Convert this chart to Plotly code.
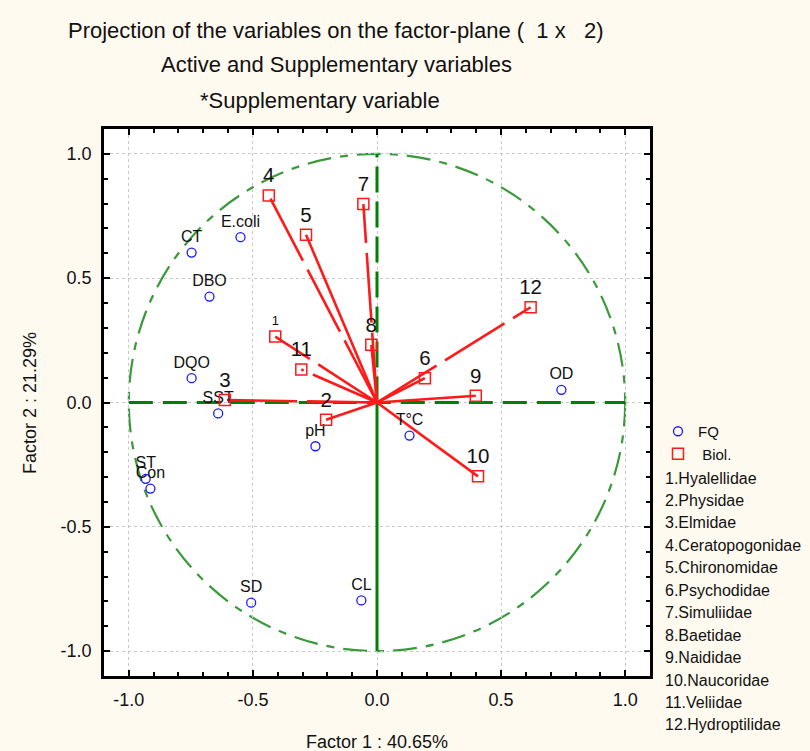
import plotly.graph_objects as go

# Physico-chemical variables (FQ): coordinates on factors 1 and 2
fq_names = ["CT", "E.coli", "DBO", "DQO", "SST", "pH", "ST", "Con", "SD", "CL", "T°C", "OD"]
fq_f1 = [-0.747, -0.550, -0.675, -0.747, -0.640, -0.248, -0.932, -0.913, -0.507, -0.063, 0.131, 0.743]
fq_f2 = [0.603, 0.665, 0.426, 0.098, -0.044, -0.176, -0.307, -0.346, -0.805, -0.796, -0.133, 0.051]

# Biological variables (families), numbered 1..12
bio_ids = ["1", "2", "3", "4", "5", "6", "7", "8", "9", "10", "11", "12"]
bio_f1 = [-0.410, -0.205, -0.613, -0.436, -0.286, 0.193, -0.055, -0.023, 0.398, 0.407, -0.305, 0.619]
bio_f2 = [0.265, -0.069, 0.010, 0.833, 0.675, 0.098, 0.798, 0.232, 0.027, -0.297, 0.133, 0.383]
families = ["Hyalellidae", "Physidae", "Elmidae", "Ceratopogonidae", "Chironomidae",
            "Psychodidae", "Simuliidae", "Baetidae", "Naididae", "Naucoridae",
            "Veliidae", "Hydroptilidae"]

tick_vals = [-1.0, -0.5, 0.0, 0.5, 1.0]
tick_text = ["-1.0", "-0.5", "0.0", "0.5", "1.0"]

FONT = "Liberation Sans, Arial, sans-serif"
GREEN = "#008000"
CIRCLE_GREEN = "#3a993a"
RED = "#ff1a1a"
INK = "#111111"

# plot-area pixel frame, used to place the surrounding texts
L, R, T, B = 104, 650, 129, 676
W, H = R - L, B - T


def px_x(p):
    return (p - L) / W


def px_y(p):
    return (B - p) / H


# vectors drawn with long dashes
dashed_vectors = {"1", "3", "4", "7", "11", "12"}

fig = go.Figure()

# axis cross through the origin
fig.add_trace(go.Scatter(x=[-1, 1], y=[0, 0], mode="lines",
                         line=dict(color=GREEN, width=3, dash="24px,10px"),
                         hoverinfo="skip", showlegend=False))
fig.add_trace(go.Scatter(x=[0, 0], y=[0, 1], mode="lines",
                         line=dict(color=GREEN, width=3, dash="26px,9px"),
                         hoverinfo="skip", showlegend=False))
fig.add_trace(go.Scatter(x=[0, 0], y=[0, -1], mode="lines",
                         line=dict(color=GREEN, width=3),
                         hoverinfo="skip", showlegend=False))

# vectors from the origin to each family
for bid, bx, by in zip(bio_ids, bio_f1, bio_f2):
    fig.add_trace(go.Scatter(
        x=[0, bx], y=[0, by], mode="lines",
        line=dict(color=RED, width=2.6,
                  dash="70px,10px" if bid in dashed_vectors else "solid"),
        hoverinfo="skip", showlegend=False))

# FQ points
fig.add_trace(go.Scatter(
    x=fq_f1, y=fq_f2, mode="markers+text", name="FQ",
    text=fq_names, textposition="top center",
    textfont=dict(family=FONT, size=16, color=INK),
    marker=dict(symbol="circle-open", size=9, color="#1a1aff", line=dict(width=1.3)),
))

# Biological points
bio_sizes = [13 if b == "1" else 20.5 for b in bio_ids]
fig.add_trace(go.Scatter(
    x=bio_f1, y=bio_f2, mode="markers+text", name=" Biol.",
    text=bio_ids, textposition="top center",
    textfont=dict(family=FONT, size=bio_sizes, color=INK),
    marker=dict(symbol="square-open", size=11, color=RED, line=dict(width=1.5)),
))

# unit correlation circle
fig.add_shape(type="circle", xref="x", yref="y", x0=-1, y0=-1, x1=1, y1=1,
              line=dict(color=CIRCLE_GREEN, width=2.2, dash="24px,9px,8px,9px"),
              layer="below")

axis_common = dict(
    range=[-1.1, 1.1], tickvals=tick_vals, ticktext=tick_text,
    ticks="inside", ticklen=6, tickwidth=2, tickcolor="black",
    minor=dict(dtick=0.1, ticks="inside", ticklen=4, tickwidth=2, tickcolor="black",
               showgrid=False),
    showline=True, linecolor="black", linewidth=2.5, mirror="allticks",
    showgrid=True, gridcolor="#c8c8c8", gridwidth=1, griddash="dot",
    zeroline=False, tickfont=dict(family=FONT, size=18, color=INK),
    ticklabelstandoff=6, fixedrange=True,
)

fig.update_layout(
    width=810, height=751,
    margin=dict(l=L, r=810 - R, t=T, b=751 - B),
    paper_bgcolor="#fffaf0", plot_bgcolor="white",
    xaxis=dict(**axis_common),
    yaxis=dict(**axis_common),
    legend=dict(x=px_x(658), y=px_y(415), xanchor="left", yanchor="top",
                bgcolor="rgba(0,0,0,0)", font=dict(family=FONT, size=15, color=INK),
                tracegroupgap=0, itemwidth=30),
    showlegend=True,
)

# axis titles
fig.add_annotation(text="Factor 1 : 40.65%", xref="paper", yref="paper",
                   x=px_x(377), y=px_y(742), xanchor="center", yanchor="middle",
                   showarrow=False, font=dict(family=FONT, size=18, color=INK))
fig.add_annotation(text="Factor 2 : 21.29%", xref="paper", yref="paper",
                   x=px_x(30), y=px_y(403), xanchor="center", yanchor="middle",
                   textangle=-90, showarrow=False,
                   font=dict(family=FONT, size=18, color=INK))

# chart titles
titles = ["Projection of the variables on the factor-plane (  1 x   2)",
          "Active and Supplementary variables",
          "*Supplementary variable"]
title_y = [30, 65, 100]
title_x = [336, 336, 320]
for t, tx, ty in zip(titles, title_x, title_y):
    fig.add_annotation(text=t, xref="paper", yref="paper",
                       x=px_x(tx), y=px_y(ty),
                       xanchor="center", yanchor="middle", showarrow=False,
                       font=dict(family=FONT, size=22, color=INK))

# numbered family key
for i, name in enumerate(families):
    fig.add_annotation(text=f"{i + 1}.{name}", xref="paper", yref="paper",
                       x=px_x(663), y=px_y(478 + 22.45 * i),
                       xanchor="left", yanchor="middle", showarrow=False,
                       font=dict(family=FONT, size=16, color=INK))

fig.write_html("out.html")
